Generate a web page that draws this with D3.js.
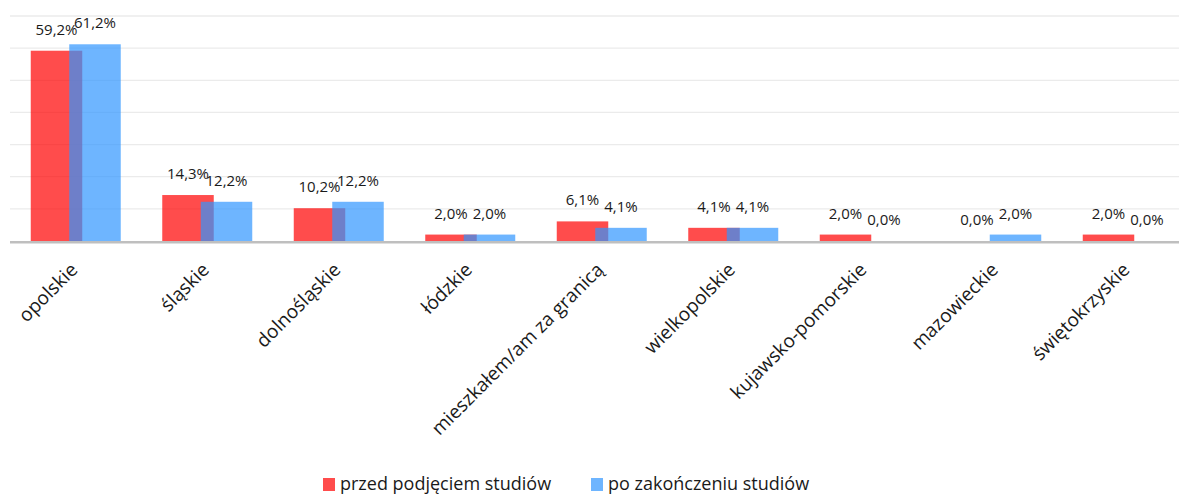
<!DOCTYPE html>
<html>
  <head>
    <meta charset="utf-8">
    <title>Województwo zamieszkania</title>
    <style>
      body { margin: 0; background: #fff; }
      text { font-family: "Open Sans", sans-serif; fill: #1a1a1a; }
    </style>
    <script src="https://d3js.org/d3.v7.min.js"></script>
  </head>
  <body>
    <script type="text/javascript">
      var categories = ["opolskie", "śląskie", "dolnośląskie", "łódzkie", "mieszkałem/am za granicą",
                        "wielkopolskie", "kujawsko-pomorskie", "mazowieckie", "świętokrzyskie"];
      var seriesNames = ["przed podjęciem studiów", "po zakończeniu studiów"];
      var przed = [59.2, 14.3, 10.2, 2.0, 6.1, 4.1, 2.0, 0.0, 2.0];
      var po = [61.2, 12.2, 12.2, 2.0, 4.1, 4.1, 0.0, 2.0, 0.0];
      var yTicks = [0, 10, 20, 30, 40, 50, 60, 70];
      var colors = ["rgb(255,0,0)", "rgb(48,150,255)"];

      var width = 1179, height = 494;

      var svg = d3.select("body")
                  .append("svg")
                  .attr("width", width)
                  .attr("height", height);

      var x = d3.scaleBand()
                .domain(categories)
                .range([10, 10 + 9 * 131.5])
                .padding(0);

      var y = d3.scaleLinear()
                .domain([0, 70])
                .range([241, 16]);

      var barW = 51.5, step = 38.5;

      // gridlines
      svg.append("g").selectAll("line")
         .data(yTicks.filter(function(d) { return d > 0; }))
         .enter()
         .append("line")
           .attr("x1", 10).attr("x2", width)
           .attr("y1", function(d) { return y(d); })
           .attr("y2", function(d) { return y(d); })
           .attr("stroke", "#ebebeb")
           .attr("stroke-width", 1.3);

      var fmt = function(v) { return v.toFixed(1).replace(".", ",") + "%"; };

      var series = [przed, po];
      series.forEach(function(vals, s) {
        var g = svg.append("g");
        g.selectAll("rect")
         .data(vals)
         .enter()
         .append("rect")
           .attr("x", function(d, i) { return x(categories[i]) + x.bandwidth() / 2 - 45 + s * step; })
           .attr("y", function(d) { return y(d); })
           .attr("width", barW)
           .attr("height", function(d) { return y(0) - y(d); })
           .attr("fill", colors[s])
           .attr("fill-opacity", 0.7);
      });

      // axis baseline
      svg.append("line")
         .attr("x1", 10).attr("x2", width)
         .attr("y1", y(0) + 1.2).attr("y2", y(0) + 1.2)
         .attr("stroke", "#bfbfbf")
         .attr("stroke-width", 2.5);

      // data labels
      series.forEach(function(vals, s) {
        svg.append("g").selectAll("text")
           .data(vals)
           .enter()
           .append("text")
             .attr("x", function(d, i) { return x(categories[i]) + x.bandwidth() / 2 - 45 + s * step + barW / 2; })
             .attr("y", function(d) { return y(d) - 16; })
             .attr("text-anchor", "middle")
             .style("font-size", "15px")
             .text(fmt);
      });

      // category labels
      svg.append("g").selectAll("text")
         .data(categories)
         .enter()
         .append("text")
           .attr("text-anchor", "end")
           .attr("transform", function(d) {
             return "translate(" + (x(d) + x.bandwidth() / 2 + 3) + ",271) rotate(-45)";
           })
           .style("font-size", "19px")
           .text(function(d) { return d; });

      // legend
      var legendX = [323, 591];
      seriesNames.forEach(function(name, s) {
        svg.append("rect")
           .attr("x", legendX[s]).attr("y", 478)
           .attr("width", 12).attr("height", 13)
           .attr("fill", colors[s])
           .attr("fill-opacity", 0.7);
        svg.append("text")
           .attr("x", legendX[s] + 17).attr("y", 490)
           .style("font-size", "18px")
           .text(name);
      });
    </script>
  </body>
</html>
